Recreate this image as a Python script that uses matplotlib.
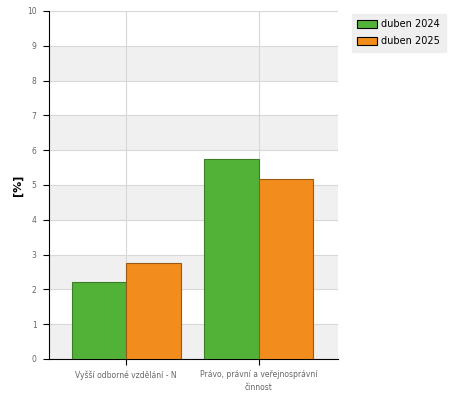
import matplotlib
matplotlib.use("Agg")
import matplotlib.pyplot as plt
import numpy as np

categories = ["Vyšší odborné vzdělání - N", "Právo, právní a veřejnosprávní\nčinnost"]
series_names = ["duben 2024", "duben 2025"]
values_2024 = [2.2, 5.75]
values_2025 = [2.76, 5.17]
yticks = list(range(0, 11))

fig = plt.figure(figsize=(4.5, 4.0), dpi=100)
ax = fig.add_axes([0.109, 0.1025, 0.642, 0.87])

# alternating bands
for i in range(0, 10, 2):
    ax.axhspan(i, i + 1, color="#f0f0f0", zorder=0, lw=0)
for y in yticks:
    ax.axhline(y, color="#d8d8d8", lw=0.8, zorder=1)

x = np.arange(len(categories))
for xi in x:
    ax.axvline(xi, color="#d8d8d8", lw=0.8, zorder=1)

w = 0.41
ax.bar(x - w / 2, values_2024, width=w, color="#52b238", edgecolor="#3b7d27", lw=0.8, zorder=3, label=series_names[0])
ax.bar(x + w / 2, values_2025, width=w, color="#f28c1c", edgecolor="#9a5a14", lw=0.8, zorder=3, label=series_names[1])

ax.set_xlim(-0.58, 1.595)
ax.set_ylim(0, 10)
ax.set_yticks(yticks)
ax.set_yticklabels([str(v) for v in yticks], fontsize=5.5, color="#666666")
ax.set_xticks(x)
ax.set_xticklabels(categories, fontsize=5.5, color="#666666", linespacing=1.5)
ax.tick_params(axis="y", length=4, width=0.8, color="black", pad=5)
ax.tick_params(axis="x", length=4, width=0.8, color="black", pad=4)
for s in ["top", "right"]:
    ax.spines[s].set_visible(False)
ax.spines["left"].set_color("black")
ax.spines["bottom"].set_color("black")
ax.set_ylabel("[%]", fontsize=8, fontweight="bold", labelpad=3)

leg = fig.legend(loc="upper left", bbox_to_anchor=(0.771, 0.978), fontsize=7,
                 frameon=True, fancybox=False, handlelength=2.0, handleheight=0.9,
                 borderpad=0.55, labelspacing=0.75, handletextpad=0.5)
leg.get_frame().set_facecolor("#ececec")
leg.get_frame().set_edgecolor("#ececec")
for h in leg.legend_handles:
    h.set_edgecolor("black")

fig.savefig("out.png", dpi=100)
